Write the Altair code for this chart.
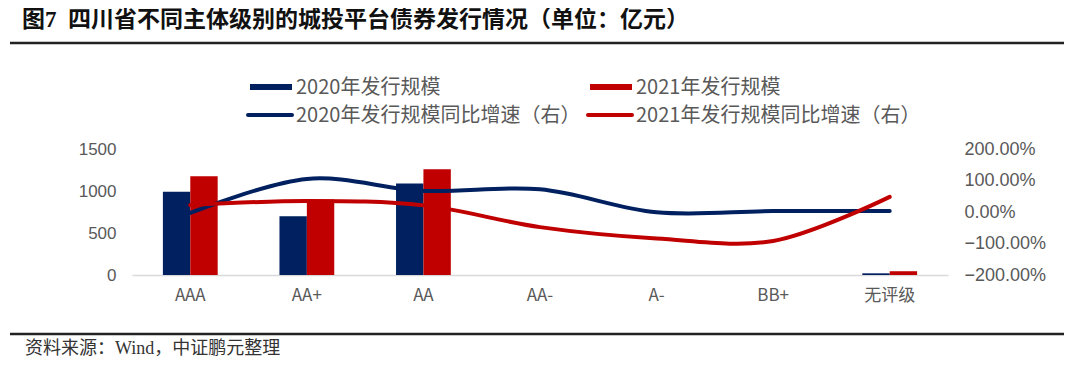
import altair as alt
import pandas as pd

# ---- data ----
categories = ["AAA", "AA+", "AA", "AA-", "A-", "BB+", "无评级"]
years = ["2020", "2021"]
issue_2020 = [990, 700, 1090, 0, 0, 0, 20]
issue_2021 = [1175, 900, 1260, 0, 0, 0, 45]
growth_2020 = [-0.03, 1.05, 0.67, 0.72, -0.01, 0.03, 0.03]
growth_2021 = [0.22, 0.35, 0.21, -0.48, -0.84, -0.92, 0.48]
left_ticks = [0, 500, 1000, 1500]
right_ticks = [-2, -1, 0, 1, 2]
title_text = "图7\u2002四川省不同主体级别的城投平台债券发行情况（单位：亿元）"
source_text = "资料来源：Wind，中证鹏元整理"
legend_labels = ["2020年发行规模", "2021年发行规模",
                 "2020年发行规模同比增速（右）", "2021年发行规模同比增速（右）"]

NAVY = "#002060"
RED = "#C00000"
GRAY = "#595959"
SANS = "Noto Sans CJK SC"
NUM = "Liberation Sans, Noto Sans CJK SC"
SERIF = "Liberation Serif, Noto Sans CJK SC"

bar_df = pd.DataFrame({
    "cat": categories * 2,
    "year": [years[0]] * len(categories) + [years[1]] * len(categories),
    "value": issue_2020 + issue_2021,
})
line_df = pd.DataFrame({
    "cat": categories * 2,
    "year": [years[0]] * len(categories) + [years[1]] * len(categories),
    "growth": growth_2020 + growth_2021,
})

color_scale = alt.Scale(domain=years, range=[NAVY, RED])

x_axis = alt.Axis(title=None, labelAngle=0, ticks=False, domainColor="#d9d9d9",
                  domainWidth=1.5, labelPadding=12, labelFontSize=17,
                  labelColor=GRAY, labelFont=SANS)

bars = alt.Chart(bar_df).mark_bar().encode(
    x=alt.X("cat:N", sort=categories,
            scale=alt.Scale(paddingInner=0.53, paddingOuter=0.265), axis=x_axis),
    xOffset=alt.XOffset("year:N", sort=years),
    y=alt.Y("value:Q", scale=alt.Scale(domain=[0, 1500], nice=False),
            axis=alt.Axis(values=left_ticks, format="d", title=None, grid=False,
                          domain=False, ticks=False, labelPadding=16,
                          labelFontSize=17, labelColor=GRAY, labelFont=NUM)),
    color=alt.Color("year:N", scale=color_scale, legend=None),
)

lines = alt.Chart(line_df).mark_line(
    interpolate="catmull-rom", strokeWidth=4, strokeCap="round"
).encode(
    x=alt.X("cat:N", sort=categories),
    y=alt.Y("growth:Q", scale=alt.Scale(domain=[-2, 2], nice=False),
            axis=alt.Axis(orient="right", values=right_ticks, format=".2%",
                          title=None, grid=False, domain=False, ticks=False,
                          labelPadding=16, labelFontSize=18, labelColor=GRAY,
                          labelFont=NUM)),
    color=alt.Color("year:N", scale=color_scale, legend=None),
)

one = pd.DataFrame({"k": [0]})


def text_layer(txt, x, y, size, color, font, weight="normal", baseline="middle"):
    return alt.Chart(pd.DataFrame({"t": [txt]})).mark_text(
        align="left", baseline=baseline, fontSize=size, font=font,
        fontWeight=weight, color=color,
    ).encode(text="t:N", x=alt.value(x), y=alt.value(y))


def hrule(x1, x2, y, color, width, cap="butt"):
    return alt.Chart(one).mark_rule(color=color, strokeWidth=width, strokeCap=cap).encode(
        x=alt.value(x1), x2=alt.value(x2), y=alt.value(y))


def swatch(x1, x2, y1, y2, color):
    return alt.Chart(one).mark_rect(color=color).encode(
        x=alt.value(x1), x2=alt.value(x2), y=alt.value(y1), y2=alt.value(y2))


# view origin is at page (132, 149)
deco = [
    text_layer(title_text, -110, -129, 23, "#111111", SERIF, "bold"),
    hrule(-122, 932, -106, "#222222", 2.5),
    hrule(-122, 932, 185, "#222222", 2.5),
    text_layer(source_text, -107, 205, 18, "#333333", SERIF, baseline="alphabetic"),
    swatch(118, 160, -65, -59, NAVY),
    text_layer(legend_labels[0], 164, -61, 20, GRAY, SANS),
    swatch(458, 500, -65, -59, RED),
    text_layer(legend_labels[1], 504, -61, 20, GRAY, SANS),
    hrule(116, 160, -34, NAVY, 4, "round"),
    text_layer(legend_labels[2], 164, -33, 20, GRAY, SANS),
    hrule(456, 500, -34, RED, 4, "round"),
    text_layer(legend_labels[3], 504, -33, 20, GRAY, SANS),
]

chart = alt.layer(bars, lines, *deco).resolve_scale(y="independent").properties(
    width=816, height=126,
    autosize=alt.AutoSizeParams(type="none"),
    padding={"left": 124, "top": 141, "right": 124, "bottom": 82},
).configure_view(stroke=None)

chart.save("out.html", embed_options={"renderer": "svg", "actions": False})
